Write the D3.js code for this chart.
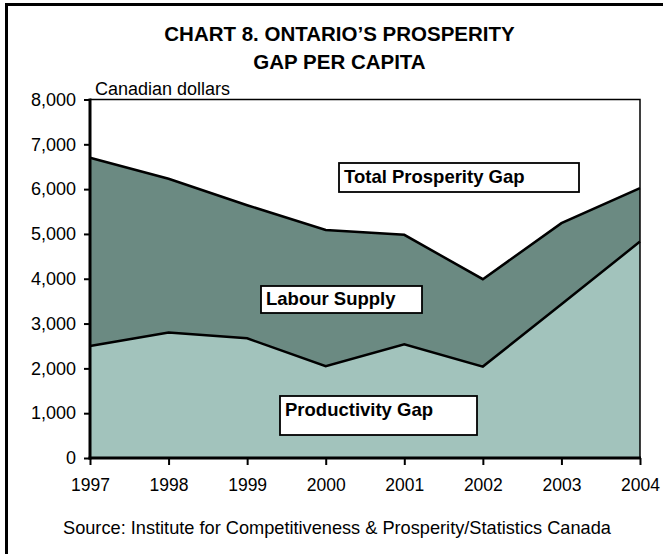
<!DOCTYPE html>
<html><head><meta charset="utf-8">
<script src="https://cdn.jsdelivr.net/npm/d3@7"></script>
<style>body{margin:0;background:#fff;} svg{display:block;font-family:"Liberation Sans",Arial,sans-serif;}</style>
</head><body>
<script>
const years = ["1997","1998","1999","2000","2001","2002","2003","2004"];
const productivityGap = [2500, 2800, 2670, 2050, 2540, 2040, 3430, 4830];
const totalGap = [6700, 6230, 5640, 5090, 4980, 3990, 5240, 6020];
const labourSupply = totalGap.map((t, i) => t - productivityGap[i]);
const yTicks = [0,1000,2000,3000,4000,5000,6000,7000,8000];
const titleLines = ["CHART 8. ONTARIO\u2019S PROSPERITY", "GAP PER CAPITA"];
const unitLabel = "Canadian dollars";
const sourceText = "Source: Institute for Competitiveness & Prosperity/Statistics Canada";
const areaLabels = [
  {text:"Total Prosperity Gap", x:339, y:163, w:240, h:29, base:20.3},
  {text:"Labour Supply", x:261, y:286, w:161, h:27, base:19.2},
  {text:"Productivity Gap", x:280, y:396, w:197, h:39, base:19.7}
];

const W = 663, H = 554;
const svg = d3.select("body").append("svg").attr("width", W).attr("height", H);
const pLeft = 90, pRight = 640, pTop = 99.5, pBottom = 458;

// outer frame (left and top visible)
svg.append("path").attr("d", `M6.5,${H} V4.5 H${W}`).attr("fill","none").attr("stroke","#000").attr("stroke-width",3);

const x = d3.scalePoint().domain(years).range([pLeft, pRight]);
const y = d3.scaleLinear().domain([0, 8000]).range([pBottom, pTop]);

const data = years.map((yr, i) => ({year: yr, prod: productivityGap[i], labour: labourSupply[i]}));
const stack = d3.stack().keys(["prod","labour"])(data);
const colors = {prod:"#a2c3bc", labour:"#6b8a82"};

const area = d3.area().x(d => x(d.data.year)).y0(d => y(d[0])).y1(d => y(d[1]));
svg.selectAll("path.area").data(stack).join("path").attr("class","area")
  .attr("d", area).attr("fill", d => colors[d.key]);

const line = d3.line().x(d => x(d.data.year)).y(d => y(d[1]));
stack.forEach(s => {
  svg.append("path").attr("d", line(s)).attr("fill","none").attr("stroke","#000").attr("stroke-width",2.5).attr("stroke-linejoin","miter");
});

// plot frame top and right
svg.append("path").attr("d", `M${pLeft},${pTop} H${pRight} V${pBottom}`).attr("fill","none").attr("stroke","#000").attr("stroke-width",1.5);

// axes
const yAxis = svg.append("g").attr("transform", `translate(${pLeft},0)`)
  .call(d3.axisLeft(y).tickValues(yTicks).tickSize(6).tickPadding(8).tickFormat(d3.format(",")));
yAxis.select(".domain").remove();
yAxis.selectAll(".tick line").attr("stroke","#000").attr("stroke-width",2);
yAxis.selectAll("text").attr("font-size","18px").attr("fill","#000").attr("font-family","'Liberation Sans',Arial,sans-serif");

const xAxis = svg.append("g").attr("transform", `translate(0,${pBottom})`)
  .call(d3.axisBottom(x).tickSize(7).tickPadding(14));
xAxis.select(".domain").remove();
xAxis.selectAll(".tick line").attr("stroke","#000").attr("stroke-width",2);
xAxis.selectAll("text").attr("font-size","17.5px").attr("fill","#000").attr("font-family","'Liberation Sans',Arial,sans-serif");

svg.append("line").attr("x1",pLeft).attr("x2",pLeft).attr("y1",pTop-1).attr("y2",pBottom+1.5).attr("stroke","#000").attr("stroke-width",3);
svg.append("line").attr("x1",pLeft-1.5).attr("x2",pRight+1).attr("y1",pBottom).attr("y2",pBottom).attr("stroke","#000").attr("stroke-width",3);

// area labels
areaLabels.forEach(l => {
  svg.append("rect").attr("x",l.x).attr("y",l.y).attr("width",l.w).attr("height",l.h)
    .attr("fill","#fff").attr("stroke","#000").attr("stroke-width",1.8);
  svg.append("text").attr("x",l.x+5).attr("y",l.y+l.base).attr("font-size","18.5px").attr("font-weight","bold").text(l.text);
});

// title
titleLines.forEach((t, i) => {
  svg.append("text").attr("x",339.5).attr("y",41 + i*28).attr("text-anchor","middle")
    .attr("font-size","20.5px").attr("font-weight","bold").text(t);
});
svg.append("text").attr("x",95).attr("y",95).attr("font-size","18px").text(unitLabel);
svg.append("text").attr("x",63).attr("y",534).attr("font-size","18.2px").text(sourceText);
</script>
</body></html>
